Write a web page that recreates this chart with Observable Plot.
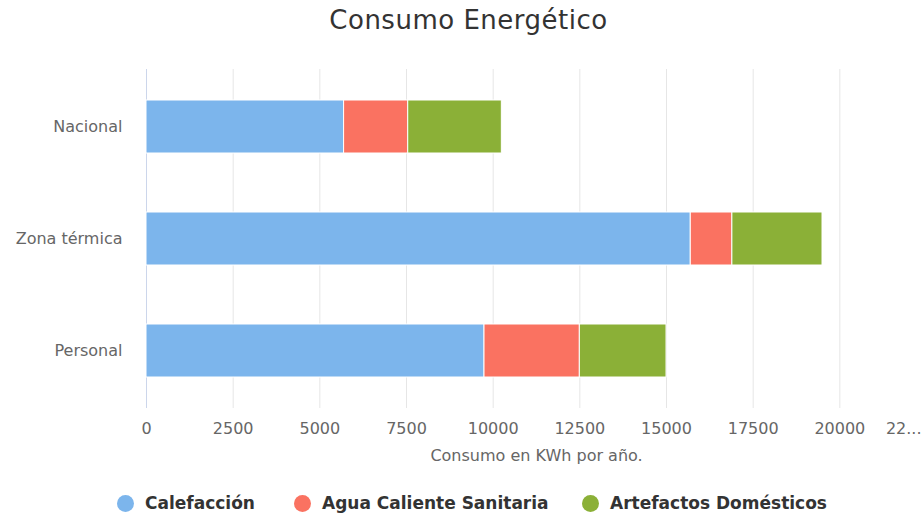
<!DOCTYPE html>
<html>
<head>
<meta charset="utf-8">
<script src="https://cdn.jsdelivr.net/npm/d3@7"></script>
<script src="https://cdn.jsdelivr.net/npm/@observablehq/plot@0.6"></script>
<style>
  html, body { margin: 0; padding: 0; background: #fff; }
  body { width: 923px; height: 516px; overflow: hidden; font-family: "DejaVu Sans", sans-serif; }
  #title { height: 44px; line-height: 40px; text-align: center; font-size: 26px; letter-spacing: 0.5px; color: #333; padding-left: 14px; box-sizing: border-box; }
  #chart svg { display: block; }
  #legend { height: 36px; position: relative; font-weight: bold; font-size: 17px; color: #333; }
  .item { position: absolute; top: 23px; transform: translateY(-50%); display: flex; align-items: center; white-space: nowrap; }
  .dot { width: 17px; height: 17px; border-radius: 50%; margin-right: 11px; }
</style>
</head>
<body>
<div id="title">Consumo Energético</div>
<div id="chart"></div>
<div id="legend"></div>
<script>
const categories = ["Nacional", "Zona térmica", "Personal"];
const series = ["Calefacción", "Agua Caliente Sanitaria", "Artefactos Domésticos"];
const calefaccion = [5700, 15700, 9750];
const aguaCaliente = [1850, 1200, 2750];
const artefactos = [2700, 2600, 2500];
const colors = ["#7cb5ec", "#fa7261", "#8bb037"];
const xTicks = [0, 2500, 5000, 7500, 10000, 12500, 15000, 17500, 20000];
const lastTickLabel = "22...";
const lastTick = 22500;

const valuesBySeries = [calefaccion, aguaCaliente, artefactos];
const data = [];
series.forEach((s, si) => categories.forEach((c, ci) => data.push({ category: c, series: s, value: valuesBySeries[si][ci] })));

const font = '"DejaVu Sans", sans-serif';
const chart = Plot.plot({
  width: 923,
  height: 436,
  marginLeft: 146,
  marginRight: 0,
  marginTop: 25,
  marginBottom: 72,
  style: { fontFamily: font, background: "#fff" },
  x: { domain: [0, lastTick], range: [146, 926] },
  y: { domain: categories, paddingInner: 0.525, paddingOuter: 0.2625, range: [25, 363.6] },
  color: { domain: series, range: colors },
  marks: [
    Plot.gridX(xTicks, { stroke: "#e6e6e6", strokeOpacity: 1 }),
    Plot.ruleX([0], { stroke: "#ccd6eb", strokeWidth: 1 }),
    Plot.barX(data, Plot.stackX({ x: "value", y: "category", fill: "series", stroke: "#fff", strokeWidth: 1, order: series })),
    Plot.axisX(xTicks, { tickSize: 0, tickPadding: 14, fontSize: 16, fill: "#666", label: null, tickFormat: d => String(d) }),
    Plot.text([lastTick], { x: d => d, frameAnchor: "bottom", dy: 14, lineAnchor: "top", text: () => lastTickLabel, textAnchor: "end", dx: -5, fontSize: 16, fill: "#666" }),
    Plot.text(["Consumo en KWh por año."], { x: () => lastTick / 2, frameAnchor: "bottom", dy: 41, lineAnchor: "top", text: d => d, fontSize: 16, fill: "#666" }),
    Plot.axisY({ tickSize: 0, tickPadding: 24, fontSize: 16, fill: "#666", label: null })
  ]
});
document.getElementById("chart").appendChild(chart);

const legendPos = [125, 302, 590];
const legend = document.getElementById("legend");
series.forEach((s, i) => {
  const item = document.createElement("div");
  item.className = "item";
  item.style.left = (legendPos[i] - 8) + "px";
  item.innerHTML = `<span class="dot" style="background:${colors[i]}"></span><span>${s}</span>`;
  legend.appendChild(item);
});
</script>
</body>
</html>
